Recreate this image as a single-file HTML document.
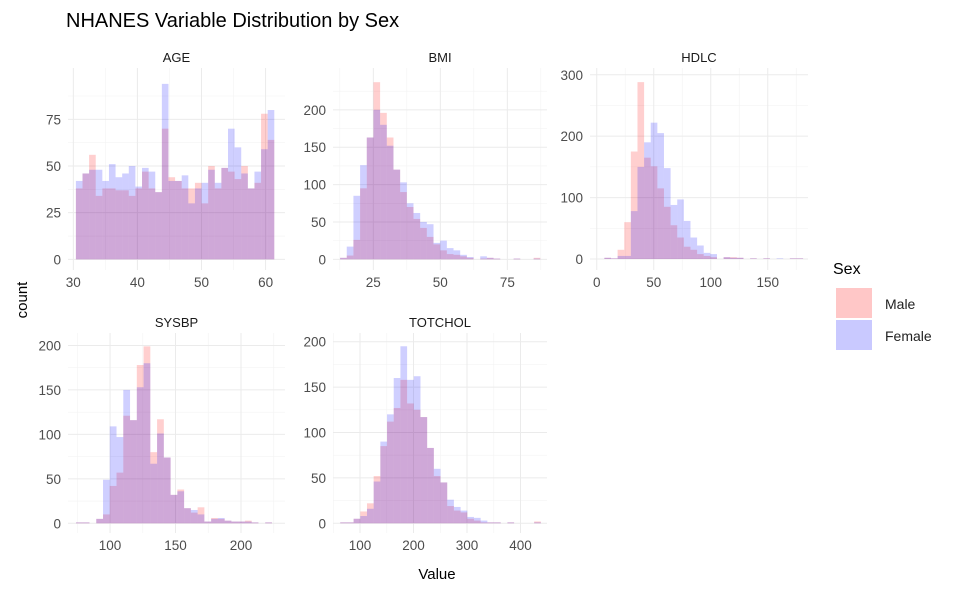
<!DOCTYPE html>
<html><head><meta charset="utf-8"><style>
body{margin:0;background:#fff;font-family:"Liberation Sans",Arial,sans-serif}
svg text{font-family:"Liberation Sans",Arial,sans-serif}
</style></head><body>
<svg id="c" width="953" height="585" xmlns="http://www.w3.org/2000/svg">
<text x="66" y="27" font-size="20" fill="#000">NHANES Variable Distribution by Sex</text>
<text x="27" y="300" font-size="15" fill="#000" transform="rotate(-90 27 300)" text-anchor="middle">count</text>
<text x="437" y="579" font-size="15" fill="#000" text-anchor="middle">Value</text>
<g>
<text x="833" y="274" font-size="16">Sex</text>
<rect x="836" y="288" width="36" height="30" fill="#FFC7C7"/>
<text x="885" y="309" font-size="14" fill="#222">Male</text>
<rect x="836" y="320" width="36" height="30" fill="#C9C9FF"/>
<text x="885" y="341" font-size="14" fill="#222">Female</text>
</g>
</svg>
<script>
const panelNames = ["AGE","BMI","HDLC","SYSBP","TOTCHOL"];
const binStart = [30.4, 12.6, 6.7, 74, 63];
const binWidth = [1.032, 2.49, 5.81, 5.16, 12.5];
const ageMale =   [38,46,56,34,38,38,37,37,34,38,47,38,36,70,44,42,38,38,41,30,50,38,49,47,43,50,38,41,78,64];
const ageFemale = [42,46,48,48,42,51,44,46,50,39,49,47,36,94,42,42,45,30,38,41,48,41,49,70,60,46,38,47,59,80];
const bmiMale =   [2,5,26,95,163,237,196,163,120,90,70,54,42,30,20,12,7,6,4,2,0,1,2,1,0,0,1,0,0,2];
const bmiFemale = [2,17,85,126,163,200,180,152,120,103,75,62,50,47,22,25,15,12,6,3,0,4,2,1,0,0,1,0,0,1];
const hdlcMale =   [2,1,15,60,175,288,165,151,115,85,55,35,20,15,8,5,3,0,3,3,2,0,1,0,1,0,0,0,1,1];
const hdlcFemale = [2,1,5,5,78,150,190,222,205,148,88,97,62,35,22,10,8,0,3,2,2,0,1,0,1,0,1,0,1,1];
const sysMale =   [1,1,0,5,10,42,57,121,116,178,199,80,117,74,32,38,17,12,18,2,6,5,3,2,2,3,1,0,1,0];
const sysFemale = [1,1,0,5,49,109,97,150,116,153,180,67,101,74,32,36,17,15,10,2,5,6,3,2,2,2,1,0,1,0];
const cholMale =   [1,1,5,13,22,52,85,112,127,158,132,125,117,83,52,45,19,14,12,5,3,1,1,1,0,1,0,0,0,2];
const cholFemale = [1,1,5,8,16,46,90,120,160,195,158,162,117,83,60,45,26,18,14,7,6,3,1,1,0,1,0,0,0,1];
const maleSeries = [ageMale,bmiMale,hdlcMale,sysMale,cholMale];
const femaleSeries = [ageFemale,bmiFemale,hdlcFemale,sysFemale,cholFemale];
const xTicks = [[30,40,50,60],[25,50,75],[0,50,100,150],[100,150,200],[100,200,300,400]];
const yTicks = [[0,25,50,75],[0,50,100,150,200],[0,100,200,300],[0,50,100,150,200],[0,50,100,150,200]];
const xDomains = [[29.17,63.03],[9.96,89.8],[-5.9,185.3],[67.9,233.6],[49.5,449.5]];
const yDomains = [[-5.7,102.5],[-14.3,256],[-17.9,311],[-10.9,214],[-10.7,209.6]];
const boxes = [[68,68,285,270],[333,68,547,270],[590,68,808,270],[68,333,285,533],[333,333,547,533]];
const NS="http://www.w3.org/2000/svg";
const svg=document.getElementById('c');
function mk(tag,attrs,parent){const e=document.createElementNS(NS,tag);for(const k in attrs)e.setAttribute(k,attrs[k]);parent.appendChild(e);return e;}
panelNames.forEach((nm,p)=>{
  const [L,T,R,B]=boxes[p];
  const xs=v=>L+(v-xDomains[p][0])/(xDomains[p][1]-xDomains[p][0])*(R-L);
  const ys=v=>B-(v-yDomains[p][0])/(yDomains[p][1]-yDomains[p][0])*(B-T);
  const g=mk('g',{},svg);
  
  
  const st=mk('text',{x:(L+R)/2,y:T-6,'font-size':13,'text-anchor':'middle',fill:'#1a1a1a'},g);
  st.textContent=nm;
  
  
  const xt=xTicks[p], yt=yTicks[p];
  const dx=xt[1]-xt[0], dy=yt[1]-yt[0];
  for(let v=xt[0]-dx/2; v<=xDomains[p][1]; v+=dx){ if(v<xDomains[p][0])continue;
    const l=mk('line',{x1:xs(v),x2:xs(v),y1:T,y2:B,stroke:'#F3F3F3','stroke-width':0.6},g);
    
    }
  for(let v=yt[0]+dy/2; v<=yDomains[p][1]; v+=dy){
    const l=mk('line',{x1:L,x2:R,y1:ys(v),y2:ys(v),stroke:'#F3F3F3','stroke-width':0.6},g);
    
    }
  xt.forEach(v=>{
    const l=mk('line',{x1:xs(v),x2:xs(v),y1:T,y2:B,stroke:'#EBEBEB','stroke-width':1},g);
    
    
    const t=mk('text',{x:xs(v),y:B+17,'font-size':13.5,'text-anchor':'middle',fill:'#4d4d4d'},g);
    t.textContent=v;
    
    
  });
  yt.forEach(v=>{
    const l=mk('line',{x1:L,x2:R,y1:ys(v),y2:ys(v),stroke:'#EBEBEB','stroke-width':1},g);
    
    
    const t=mk('text',{x:L-7,y:ys(v)+5,'font-size':13.5,'text-anchor':'end',fill:'#4d4d4d'},g);
    t.textContent=v;
    
    
  });
  [[maleSeries[p],'rgba(255,0,0,0.19)','male'],[femaleSeries[p],'rgba(0,0,255,0.19)','female']].forEach(([arr,col,sx])=>{
    arr.forEach((v,i)=>{
      if(v<=0)return;
      const a=binStart[p]+i*binWidth[p], b=a+binWidth[p];
      const r=mk('rect',{x:xs(a),y:ys(v),width:xs(b)-xs(a),height:ys(0)-ys(v),fill:col},g);
      
      
    });
  });
});
</script>
</body></html>
